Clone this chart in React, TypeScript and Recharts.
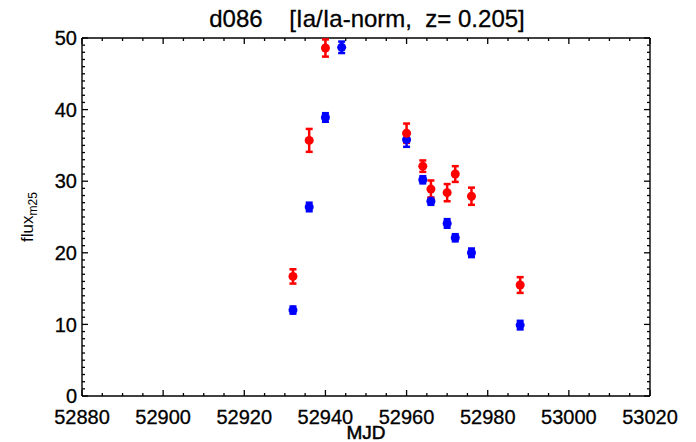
import { ErrorBar, ReferenceLine, Scatter, ScatterChart, XAxis, YAxis } from "recharts";

// light curve, two filters
const mjdRed = [52932, 52936, 52940, 52960, 52964, 52966, 52970, 52972, 52976, 52988];
const fluxRed = [16.7, 35.7, 48.6, 36.7, 32.1, 28.9, 28.4, 31.0, 27.9, 15.5];
const errRed = [1.0, 1.6, 1.2, 1.35, 0.8, 1.2, 1.2, 1.1, 1.2, 1.1];

const mjdBlue = [52932, 52936, 52940, 52944, 52960, 52964, 52966, 52970, 52972, 52976, 52988];
const fluxBlue = [12.0, 26.4, 38.9, 48.7, 35.8, 30.2, 27.2, 24.1, 22.1, 20.0, 9.9];
const errBlue = [0.5, 0.6, 0.6, 0.8, 1.0, 0.5, 0.5, 0.6, 0.5, 0.6, 0.6];

const xMajor = [52880, 52900, 52920, 52940, 52960, 52980, 53000, 53020];
const xMinor = Array.from({ length: 29 }, (_, i) => 52880 + i * 5).filter((v) => v % 20 !== 0);
const yMajor = [0, 10, 20, 30, 40, 50];
const yMinor = Array.from({ length: 51 }, (_, i) => i).filter((v) => v % 10 !== 0);

const X0 = 52880;
const X1 = 53020;
const Y0 = 0;
const Y1 = 50;

const W = 696;
const H = 442;
const LEFT = 82;
const RIGHT = 650;
const TOP = 38;
const BOTTOM = 396;
const FONT = "'Liberation Sans', Arial, Helvetica, sans-serif";

// tick lengths in data units (~6px major, ~3px minor)
const xPxPerDay = (RIGHT - LEFT) / (X1 - X0);
const yPxPerUnit = (BOTTOM - TOP) / (Y1 - Y0);
const vMaj = 6 / yPxPerUnit;
const vMin = 3 / yPxPerUnit;
const hMaj = 6 / xPxPerDay;
const hMin = 3 / xPxPerDay;

const red = mjdRed.map((mjd, i) => ({ mjd, flux: fluxRed[i], err: errRed[i] }));
const blue = mjdBlue.map((mjd, i) => ({ mjd, flux: fluxBlue[i], err: errBlue[i] }));

const tickFont = { fontSize: 20, fontFamily: FONT, fill: "#000", stroke: "#000", strokeWidth: 0.3 };
const tk = { stroke: "#000", strokeWidth: 1.3, ifOverflow: "visible" as const };

const Dot = (color: string) => (props: any) => (
  <circle cx={props.cx} cy={props.cy} r={4.5} fill={color} />
);

const xTickLines = (vals: number[], len: number) =>
  vals.flatMap((v) => [
    <ReferenceLine key={`xb${v}`} {...tk} segment={[{ x: v, y: Y0 }, { x: v, y: Y0 + len }]} />,
    <ReferenceLine key={`xt${v}`} {...tk} segment={[{ x: v, y: Y1 }, { x: v, y: Y1 - len }]} />,
  ]);

const yTickLines = (vals: number[], len: number) =>
  vals.flatMap((v) => [
    <ReferenceLine key={`yl${v}`} {...tk} segment={[{ x: X0, y: v }, { x: X0 + len, y: v }]} />,
    <ReferenceLine key={`yr${v}`} {...tk} segment={[{ x: X1, y: v }, { x: X1 - len, y: v }]} />,
  ]);

export default function App() {
  return (
    <div style={{ position: "absolute", left: 0, top: 0, width: W, height: H, background: "#fff" }}>
      <ScatterChart width={W} height={H} margin={{ top: TOP, right: W - RIGHT, bottom: 0, left: 0 }}>
        <XAxis type="number" dataKey="mjd" domain={[X0, X1]} ticks={xMajor} interval={0}
          height={H - BOTTOM} axisLine={false} tickLine={false} tickSize={0} tickMargin={14} tick={tickFont} />
        <YAxis type="number" dataKey="flux" domain={[Y0, Y1]} ticks={yMajor} interval={0}
          width={LEFT} axisLine={false} tickLine={false} tickSize={0} tickMargin={5} tick={tickFont} />
        {xTickLines(xMinor, vMin)}
        {xTickLines(xMajor, vMaj)}
        {yTickLines(yMinor, hMin)}
        {yTickLines(yMajor, hMaj)}
        <ReferenceLine x={X0} stroke="#000" strokeWidth={1.4} ifOverflow="visible" />
        <ReferenceLine x={X1} stroke="#000" strokeWidth={1.4} ifOverflow="visible" />
        <ReferenceLine y={Y0} stroke="#000" strokeWidth={1.4} ifOverflow="visible" />
        <ReferenceLine y={Y1} stroke="#000" strokeWidth={1.4} ifOverflow="visible" />
        <Scatter data={blue} fill="#0000ff" shape={Dot("#0000ff")} isAnimationActive={false}>
          <ErrorBar dataKey="err" direction="y" width={3.5} stroke="#0000ff" strokeWidth={2.5} />
        </Scatter>
        <Scatter data={red} fill="#ff0000" shape={Dot("#ff0000")} isAnimationActive={false}>
          <ErrorBar dataKey="err" direction="y" width={3.5} stroke="#ff0000" strokeWidth={2.5} />
        </Scatter>
        <text x={367} y={27} textAnchor="middle" fontSize={24} fontFamily={FONT} fill="#000"
          stroke="#000" strokeWidth={0.3} style={{ whiteSpace: "pre" }}>
          {"d086    [Ia/Ia-norm,  z= 0.205]"}
        </text>
        <text x={366} y={439} textAnchor="middle" fontSize={19} fontFamily={FONT} fill="#000"
          stroke="#000" strokeWidth={0.5}>
          MJD
        </text>
        <text transform="translate(33,217) rotate(-90)" textAnchor="middle" fontFamily={FONT} fill="#000">
          <tspan fontSize={17}>flux</tspan>
          <tspan fontSize={12} dy={4}>m25</tspan>
        </text>
      </ScatterChart>
    </div>
  );
}
